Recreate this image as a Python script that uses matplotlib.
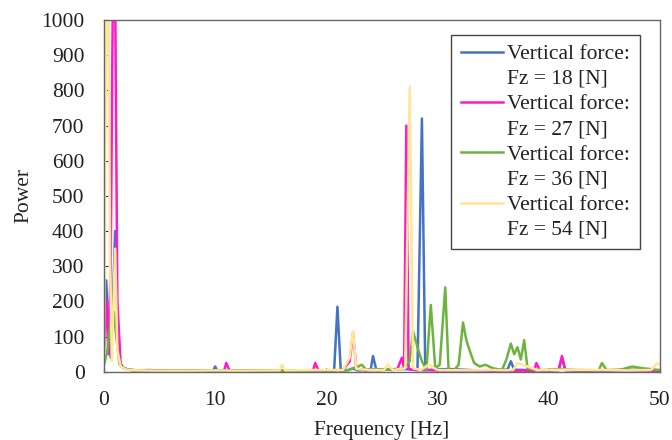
import numpy as np
import matplotlib
matplotlib.use('Agg')
import matplotlib.pyplot as plt
from matplotlib.legend_handler import HandlerLine2D
from matplotlib.lines import Line2D

plt.rcParams['font.family'] = ['Liberation Serif', 'DejaVu Serif']

# Fz = 18 N
freq_18 = [0, 0.2, 0.4, 0.6, 0.8, 1.0, 1.2, 1.4, 1.7, 2.0, 2.5, 3.5, 5, 7, 9.8, 10, 10.2,
           13, 16, 19, 20.7, 21.0, 21.3, 22.0, 22.4, 22.8, 23.5, 24.0, 24.2, 24.5, 25.5,
           27.0, 28.2, 28.6, 28.9, 29.5, 31, 33.5, 35, 36.3, 36.6, 36.9, 38, 39.5, 40.9,
           41.2, 41.5, 43, 45, 47, 49, 50]
pow_18 = [60, 260, 120, 40, 200, 400, 150, 30, 12, 8, 5, 3, 3, 2, 2, 15, 2,
          3, 2, 4, 3, 185, 3, 5, 10, 4, 5, 8, 45, 5, 6,
          8, 5, 720, 5, 6, 8, 4, 5, 6, 30, 6, 5, 4, 5,
          40, 5, 4, 3, 6, 5, 3]

# Fz = 27 N
freq_27 = [0, 0.2, 0.4, 0.6, 0.8, 1.0, 1.2, 1.5, 1.8, 2.2, 3, 4, 6, 8, 10.8, 11.0, 11.3,
           14, 17, 18.8, 19.0, 19.3, 21.5, 22.1, 22.4, 22.7, 23.5, 25, 26.4, 26.8, 27.0,
           27.2, 27.4, 28, 30, 33, 36, 38.7, 38.9, 39.2, 40.9, 41.2, 41.5, 44, 47, 50]
pow_27 = [80, 200, 50, 300, 1100, 1100, 200, 20, 10, 6, 4, 5, 3, 4, 3, 25, 3,
          4, 3, 3, 25, 3, 5, 30, 110, 10, 4, 5, 8, 40, 10,
          700, 8, 5, 4, 3, 3, 3, 25, 4, 5, 45, 5, 3, 4, 3]

# Fz = 36 N
freq_36 = [0, 0.3, 0.6, 0.9, 1.1, 1.4, 1.8, 2.2, 3, 5, 8, 11, 14, 17, 20, 22, 23.2, 23.6,
           24.5, 26, 27.0, 27.5, 27.8, 28.2, 28.6, 29.0, 29.4, 29.8, 30.2, 30.7, 31.0,
           31.5, 31.9, 32.3, 32.6, 32.9, 33.3, 33.8, 34.3, 35, 35.8, 36.2, 36.6, 36.9,
           37.2, 37.5, 37.8, 38.1, 38.6, 39.5, 41, 42.5, 44.5, 44.8, 45.2, 46.5, 47.5,
           48.5, 50]
pow_36 = [20, 60, 150, 170, 100, 20, 10, 6, 4, 3, 3, 3, 4, 3, 4, 5, 20, 5,
          8, 5, 10, 30, 115, 70, 30, 5, 190, 10, 20, 240, 5,
          5, 20, 140, 90, 60, 25, 15, 20, 10, 5, 35, 80, 50,
          70, 35, 90, 10, 6, 5, 8, 5, 4, 25, 5, 6, 15,
          10, 5]

# Fz = 54 N
freq_54 = [0, 0.1, 0.25, 0.4, 0.55, 0.7, 0.85, 1.0, 1.2, 1.5, 2, 3, 5, 8, 10, 12, 15.8,
           16.0, 16.3, 19, 21.5, 22.1, 22.4, 22.7, 24, 25.2, 25.5, 26, 27.1, 27.5, 27.8,
           28.5, 29.2, 30, 33, 35, 36, 36.8, 37.2, 39, 42, 45, 47, 49.2, 49.8, 50]
pow_54 = [40, 600, 1100, 1100, 300, 30, 200, 350, 60, 15, 6, 4, 3, 3, 4, 3, 4,
          20, 4, 5, 5, 40, 115, 8, 5, 5, 20, 5, 10, 810, 10,
          5, 20, 5, 4, 5, 4, 5, 25, 5, 6, 5, 4, 5, 25, 20]

labels = ['Vertical force:\nFz = 18 [N]', 'Vertical force:\nFz = 27 [N]',
          'Vertical force:\nFz = 36 [N]', 'Vertical force:\nFz = 54 [N]']
colors = ['#4472C4', '#FF19C8', '#6DB33F', '#FFE699']
FS = 15.5


class TopLineHandler(HandlerLine2D):
    # put the legend line next to the first text line
    def create_artists(self, legend, orig_handle, xdescent, ydescent, width, height,
                       fontsize, trans):
        arts = super().create_artists(legend, orig_handle, xdescent, ydescent, width,
                                      height, fontsize, trans)
        for a in arts:
            if isinstance(a, Line2D):
                a.set_ydata(np.asarray(a.get_ydata()) + 0.68 * fontsize)
        return arts


fig = plt.figure(figsize=(6.72, 4.4), dpi=100)
ax = fig.add_axes([0.1548, 0.155, 0.827, 0.7995])

series = [(freq_18, pow_18), (freq_27, pow_27), (freq_36, pow_36), (freq_54, pow_54)]
for (f, p), c, lab in zip(series, colors, labels):
    ax.plot(f, p, color=c, lw=1.8, label=lab)

ax.set_xlim(0, 50)
ax.set_ylim(0, 1000)
ax.set_xticks(np.arange(0, 51, 10))
ax.set_yticks(np.arange(0, 1001, 100))
ax.tick_params(direction='in', length=3, labelsize=FS, colors='#222222', width=0.8)
ax.tick_params(axis='x', pad=14)
ax.tick_params(axis='y', pad=14)
for s in ax.spines.values():
    s.set_color('#666666')
    s.set_linewidth(1.0)
ax.set_xlabel('Frequency [Hz]', fontsize=FS, color='#222222', labelpad=8)
ax.set_ylabel('Power', fontsize=FS, color='#222222', labelpad=6)

leg = ax.legend(loc='upper right', bbox_to_anchor=(0.964, 0.957), borderaxespad=0,
                fontsize=FS, handlelength=1.95, handletextpad=0.2, labelspacing=0.3,
                borderpad=0.45, fancybox=False, framealpha=1,
                handler_map={Line2D: TopLineHandler()})
leg.get_frame().set_edgecolor('#444444')
leg.get_frame().set_linewidth(1.0)
for t in leg.get_texts():
    t.set_color('#222222')
    t.set_linespacing(1.42)

fig.savefig('out.png', dpi=100)
